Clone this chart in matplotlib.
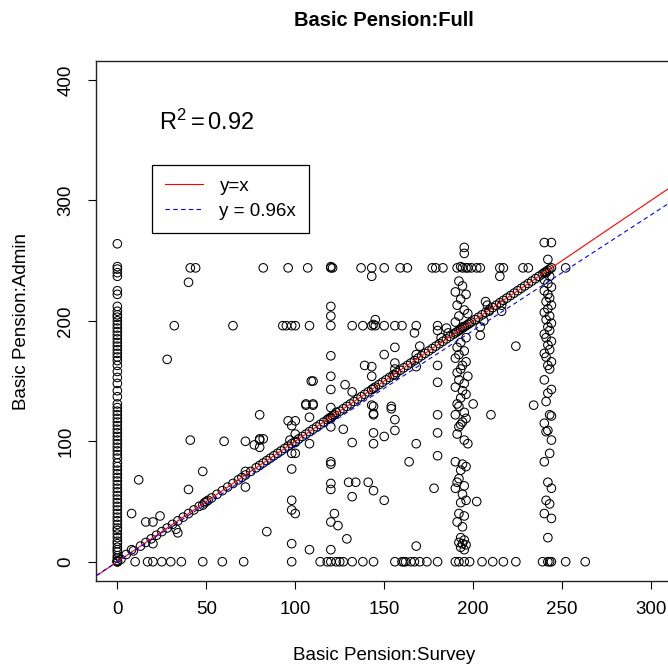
"""Basic pension: survey vs admin scatter"""

import matplotlib
matplotlib.use("Agg")
import matplotlib.pyplot as plt
from matplotlib.lines import Line2D

plt.rcParams['font.family'] = ['Liberation Sans', 'DejaVu Sans']
plt.rcParams['mathtext.fontset'] = 'custom'
plt.rcParams['mathtext.rm'] = 'Liberation Sans'
plt.rcParams['mathtext.it'] = 'Liberation Sans:italic'

# survey = 0, admin values
zero_admin = [0, 0, 1, 3, 5, 8, 10, 12, 15, 17, 20, 23, 26, 28, 31, 34, 37, 40, 43,
              46, 49, 52, 55, 58, 61, 64, 67, 70, 73, 76, 79, 82, 86, 89, 92, 95, 98,
              101, 104, 107, 110, 113, 116, 119, 122, 125, 128, 131, 137, 142, 148,
              153, 158, 163, 167, 170, 173, 176, 179, 182, 185, 188, 191, 194, 197,
              200, 203, 205, 208, 212, 222, 225, 237, 240, 243, 245, 264]

# admin = 0, survey values
zero_survey = [0, 10, 17, 20, 25, 30, 36, 48, 59, 71, 98, 114, 118, 120, 123, 125,
               127, 132, 138, 144, 156, 160, 161, 162, 165, 167, 170, 174, 180, 190,
               192, 195, 198, 205, 211, 217, 224, 239, 242, 243, 244, 252, 263]

# (survey, admin) points lying on survey == admin
diag_points = [(2, 2), (5, 6), (9, 9), (13, 13), (16, 16), (19, 19), (22, 22), (25, 25),
               (28, 28), (31, 31), (34, 34), (37, 37), (40, 40), (43, 43), (46, 46),
               (48, 47), (49, 49), (50, 50), (51, 51), (53, 53), (56, 56), (59, 59),
               (62, 62), (65, 65), (68, 68), (70, 70), (72, 72), (75, 75), (78, 78),
               (80, 80), (82, 82), (84, 84), (86, 86), (88, 88), (90, 90), (92, 92),
               (94, 94), (96, 96), (98, 98), (100, 100), (102, 102), (104, 104),
               (106, 106), (108, 108), (110, 110), (112, 112), (114, 114), (116, 116),
               (118, 118), (119, 119), (120, 120), (121, 121), (122, 122), (123, 124),
               (125, 125), (127, 127), (129, 129), (131, 131), (133, 133), (135, 135),
               (137, 137), (139, 139), (141, 141), (143, 143), (144, 144), (145, 145),
               (147, 147), (149, 149), (151, 151), (153, 153), (155, 155), (157, 157),
               (159, 159), (161, 161), (163, 163), (165, 165), (167, 167), (169, 169),
               (171, 171), (173, 173), (175, 175), (177, 177), (179, 179), (181, 181),
               (183, 183), (185, 185), (187, 187), (189, 189), (190, 190), (191, 191),
               (192, 192), (193, 193), (194, 194), (195, 195), (196, 196), (197, 197),
               (198, 198), (199, 199), (201, 201), (203, 203), (205, 205), (207, 207),
               (209, 209), (211, 211), (213, 213), (215, 215), (217, 217), (219, 219),
               (221, 221), (223, 223), (225, 225), (227, 227), (229, 229), (231, 231),
               (233, 233), (235, 235), (237, 237), (239, 239), (240, 240), (241, 241),
               (242, 242), (243, 243), (244, 244)]

# admin around 244 (upper band)
top_points = [(41, 244), (44, 244), (82, 244), (96, 244), (107, 244), (120, 244),
              (120, 245), (121, 244), (137, 244), (143, 244), (150, 244), (159, 244),
              (163, 244), (177, 244), (179, 244), (183, 244), (191, 244), (193, 245),
              (194, 244), (196, 244), (197, 244), (199, 244), (202, 244), (204, 244),
              (215, 244), (217, 244), (228, 244), (231, 244), (252, 244), (40, 232),
              (143, 237), (215, 237), (195, 261), (195, 256), (240, 265), (244, 265),
              (242, 251)]

# admin around 196
mid_points = [(32, 196), (65, 196), (93, 196), (95, 196), (98, 196), (100, 196),
              (108, 196), (120, 196), (132, 196), (138, 196), (143, 196), (144, 197),
              (145, 196), (150, 196), (156, 196), (160, 196), (168, 196), (180, 196),
              (28, 168), (120, 212), (120, 204), (145, 201), (167, 190), (180, 192),
              (185, 194), (204, 188), (204, 195), (206, 200), (207, 216), (208, 213),
              (209, 208), (216, 213), (216, 208), (224, 179)]

# survey around 192 (dense column)
col192_points = [(192, 233), (194, 229), (190, 224), (196, 222), (193, 218), (191, 213),
                 (195, 209), (197, 206), (192, 204), (190, 199), (194, 195), (196, 186),
                 (193, 182), (191, 178), (195, 175), (192, 172), (190, 169), (196, 166),
                 (194, 163), (193, 160), (191, 157), (197, 154), (192, 151), (195, 148),
                 (190, 145), (194, 142), (196, 139), (193, 136), (191, 131), (192, 129),
                 (195, 124), (190, 122), (196, 119), (194, 116), (193, 114), (192, 112),
                 (191, 106), (195, 101), (197, 98), (190, 83), (194, 81), (196, 79),
                 (193, 76), (192, 69), (191, 66), (195, 63), (190, 61), (194, 56),
                 (196, 51), (193, 49), (192, 40), (195, 38), (191, 33), (194, 29),
                 (193, 20), (195, 18), (192, 16), (194, 15), (196, 14), (193, 12),
                 (195, 10)]

# survey around 242 (dense column)
col242_points = [(242, 20), (244, 36), (240, 40), (243, 48), (241, 51), (244, 61),
                 (242, 66), (240, 83), (243, 90), (244, 101), (241, 108), (242, 109),
                 (240, 115), (244, 121), (243, 122), (241, 133), (242, 140), (244, 143),
                 (240, 151), (243, 160), (242, 163), (244, 166), (241, 170), (240, 173),
                 (243, 176), (242, 180), (244, 183), (241, 186), (240, 189), (243, 192),
                 (242, 195), (244, 198), (241, 201), (243, 204), (240, 207), (242, 210),
                 (244, 213), (241, 216), (243, 219), (242, 222), (240, 225), (244, 228),
                 (242, 231), (240, 234), (243, 237), (241, 240)]

# remaining scattered points
other_points = [(96, 117), (100, 117), (98, 113), (100, 106), (97, 101), (100, 99),
                (98, 90), (100, 90), (98, 77), (98, 51), (98, 43), (100, 40), (98, 15),
                (120, 10), (120, 33), (122, 40), (124, 30), (120, 60), (120, 65),
                (120, 81), (120, 83), (120, 112), (120, 143), (120, 154), (120, 171),
                (120, 128), (120, 119), (80, 122), (80, 102), (82, 102), (80, 95),
                (84, 25), (106, 130), (110, 130), (108, 120), (108, 98), (108, 10),
                (127, 110), (132, 99), (130, 66), (134, 66), (132, 54), (129, 19),
                (141, 66), (144, 59), (150, 51), (144, 129), (144, 123), (144, 122),
                (144, 107), (144, 98), (150, 104), (154, 127), (156, 118), (156, 109),
                (168, 98), (164, 83), (168, 13), (109, 150), (110, 150), (106, 131),
                (110, 131), (128, 147), (132, 141), (139, 163), (143, 162), (143, 154),
                (150, 172), (156, 178), (156, 165), (156, 160), (156, 155), (170, 179),
                (168, 172), (168, 162), (143, 130), (154, 129), (41, 101), (60, 100),
                (72, 100), (77, 97), (80, 101), (48, 75), (72, 75), (72, 62), (40, 60),
                (12, 68), (8, 40), (16, 33), (20, 33), (24, 38), (34, 24), (33, 27),
                (20, 15), (8, 10), (178, 61), (180, 88), (180, 107), (180, 122),
                (180, 163), (180, 149), (202, 50), (210, 122), (200, 131), (234, 130),
                (186, 190), (182, 186)]

r2_text = r'$\mathrm{R}^{2}=\mathrm{0.92}$'
fit_slope = 0.96
legend_labels = ["y=x", "y = 0.96x"]

W = H = 668.0
fig = plt.figure(figsize=(6.68, 6.68), dpi=100)
ax = fig.add_axes([96 / W, 87 / H, 576.4 / W, 520.3 / H])

marker_kw = dict(s=38, facecolors='none', edgecolors='black', linewidths=0.75)
ax.scatter([0] * len(zero_admin), zero_admin, **marker_kw)
ax.scatter(zero_survey, [0] * len(zero_survey), **marker_kw)
for pts in [diag_points, top_points, mid_points, col192_points, col242_points,
            other_points]:
    xs, ys = zip(*pts)
    ax.scatter(xs, ys, **marker_kw)

ax.axline((0, 0), slope=1, color='red', lw=0.8, zorder=3)
ax.axline((0, 0), slope=fit_slope, color='blue', lw=0.8, ls=(0, (4, 3)), zorder=3)

ax.set_xlim(-12, 312)
ax.set_ylim(-16, 416)
ax.set_xticks([0, 50, 100, 150, 200, 250, 300])
ax.set_yticks([0, 100, 200, 300, 400])
ax.tick_params(direction='out', length=5.5, width=0.8, labelsize=13.5, pad=9)
ax.tick_params(axis='y', pad=10)
for lab in ax.get_yticklabels():
    lab.set_rotation(90)
    lab.set_va('center')
for sp in ax.spines.values():
    sp.set_linewidth(1.0)
    sp.set_color('#222222')

ax.text(50, 365, r2_text, fontsize=17, ha='center', va='center')

handles = [Line2D([], [], color='red', lw=0.8),
           Line2D([], [], color='blue', lw=0.8, ls=(0, (4, 3)))]
leg = ax.legend(handles, legend_labels, loc='upper left',
                bbox_to_anchor=(0.0977, 0.7995), borderaxespad=0,
                fancybox=False, framealpha=1, edgecolor='black',
                fontsize=13.5, handlelength=2.0, handletextpad=0.9,
                borderpad=0.68, labelspacing=0.42)
leg.get_frame().set_linewidth(0.9)

fig.text(384 / W, 1 - 20 / H, "Basic Pension:Full", fontsize=14.5,
         fontweight='bold', ha='center', va='center')
fig.text(384 / W, 1 - 656 / H, "Basic Pension:Survey", fontsize=13.5,
         ha='center', va='center')
fig.text(22 / W, 1 - 321 / H, "Basic Pension:Admin", fontsize=13.5,
         ha='center', va='center', rotation=90)

fig.savefig("out.png", dpi=100)
